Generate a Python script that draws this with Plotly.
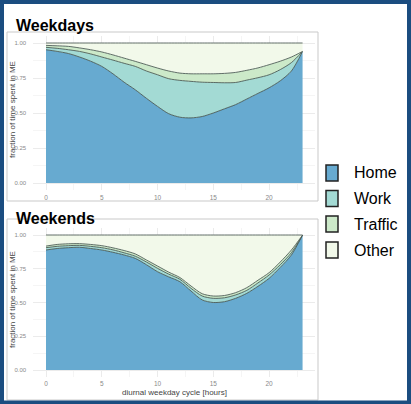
import plotly.graph_objects as go

W, H = 411, 404

hours = list(range(24))
series_names = ["Home", "Work", "Traffic", "Other"]
colors = ["#67aad0", "#a3dad4", "#cce9c9", "#f2f9ea"]

weekday_home = [0.952, 0.94, 0.925, 0.90, 0.87, 0.833, 0.78, 0.72, 0.666, 0.605, 0.547, 0.495,
                0.47, 0.465, 0.475, 0.50, 0.53, 0.56, 0.60, 0.64, 0.68, 0.73, 0.80, 0.94]
weekday_work = [0.017, 0.022, 0.027, 0.04, 0.052, 0.067, 0.098, 0.135, 0.167, 0.195, 0.226, 0.25,
                0.263, 0.261, 0.245, 0.218, 0.186, 0.158, 0.135, 0.112, 0.093, 0.08, 0.06, 0.0]
weekday_traffic = [0.014, 0.018, 0.024, 0.025, 0.03, 0.036, 0.037, 0.037, 0.036, 0.045, 0.048, 0.055,
                   0.052, 0.054, 0.06, 0.062, 0.067, 0.072, 0.07, 0.07, 0.072, 0.06, 0.04, 0.0]
weekday_other = [0.017, 0.02, 0.024, 0.035, 0.048, 0.064, 0.085, 0.108, 0.131, 0.155, 0.179, 0.20,
                 0.215, 0.22, 0.22, 0.22, 0.217, 0.21, 0.195, 0.178, 0.155, 0.13, 0.10, 0.06]

weekend_home = [0.889, 0.90, 0.906, 0.909, 0.90, 0.889, 0.872, 0.852, 0.827, 0.78, 0.728, 0.69,
                0.654, 0.585, 0.519, 0.50, 0.506, 0.531, 0.568, 0.62, 0.679, 0.76, 0.852, 1.0]
weekend_work = [0.017, 0.016, 0.015, 0.014, 0.016, 0.017, 0.018, 0.016, 0.016, 0.02, 0.025, 0.02,
                0.018, 0.02, 0.029, 0.031, 0.029, 0.025, 0.022, 0.025, 0.025, 0.02, 0.017, 0.0]
weekend_traffic = [0.012, 0.014, 0.014, 0.013, 0.014, 0.015, 0.015, 0.017, 0.017, 0.015, 0.017, 0.015,
                   0.013, 0.017, 0.017, 0.017, 0.017, 0.017, 0.02, 0.02, 0.017, 0.02, 0.02, 0.0]
weekend_other = [0.082, 0.07, 0.065, 0.064, 0.07, 0.079, 0.095, 0.115, 0.14, 0.185, 0.23, 0.275,
                 0.315, 0.378, 0.435, 0.452, 0.448, 0.427, 0.39, 0.335, 0.279, 0.20, 0.111, 0.0]

x_ticks = [0, 5, 10, 15, 20]
y_ticks = [0, 0.25, 0.5, 0.75, 1.0]
y_ticklabels = ["0.00", "0.25", "0.50", "0.75", "1.00"]

panel_titles = ["Weekdays", "Weekends"]
y_title = "fraction of time spent in ME"
x_title = "diurnal weekday cycle [hours]"

TITLEF = "Liberation Sans, Arial, sans-serif"
SANS = "Liberation Sans, Arial, sans-serif"


def px(x):
    return x / W


def py(y):
    return 1 - y / H


fig = go.Figure()

data_sets = [
    [weekday_home, weekday_work, weekday_traffic, weekday_other],
    [weekend_home, weekend_work, weekend_traffic, weekend_other],
]
for i, ds in enumerate(data_sets):
    xa = "x" if i == 0 else "x2"
    ya = "y" if i == 0 else "y2"
    for name, vals, col in zip(series_names, ds, colors):
        fig.add_trace(go.Scatter(
            x=hours, y=vals, name=name, stackgroup=f"s{i}", mode="lines",
            line=dict(color="#3b4a45", width=0.8, shape="spline", smoothing=0.8),
            fillcolor=col, xaxis=xa, yaxis=ya, showlegend=False, hoverinfo="skip",
        ))

xdom = [px(33.2), px(315.4)]
common_x = dict(range=[-1.15, 24.15], tickvals=x_ticks, ticktext=[str(v) for v in x_ticks],
                showgrid=True, gridcolor="#ebebeb", gridwidth=1, zeroline=False, showline=False,
                ticks="", tickfont=dict(size=6.5, color="#8a8a8a", family=SANS),
                ticklabelstandoff=2,
                minor=dict(showgrid=True, dtick=2.5, tick0=0, gridcolor="#f5f5f5", gridwidth=1),
                fixedrange=True)
common_y = dict(range=[-0.05, 1.05], tickvals=y_ticks, ticktext=y_ticklabels,
                showgrid=True, gridcolor="#ebebeb", gridwidth=1, zeroline=False, showline=False,
                ticks="", tickfont=dict(size=6, color="#8a8a8a", family=SANS),
                ticklabelstandoff=6,
                minor=dict(showgrid=True, dtick=0.125, tick0=0, gridcolor="#f5f5f5", gridwidth=1),
                fixedrange=True)

fig.update_layout(
    width=W, height=H, margin=dict(l=0, r=0, t=0, b=0),
    paper_bgcolor="white", plot_bgcolor="white", showlegend=False,
    xaxis=dict(domain=xdom, anchor="y", **common_x),
    yaxis=dict(domain=[py(190), py(36)], anchor="x", **common_y),
    xaxis2=dict(domain=xdom, anchor="y2", **common_x),
    yaxis2=dict(domain=[py(376.75), py(228.25)], anchor="x2", **common_y),
)

shapes = []
# panel borders
for (x0, y0, x1, y1) in [(7, 32, 318, 201), (7, 219, 318, 400)]:
    shapes.append(dict(type="rect", xref="paper", yref="paper", x0=px(x0), x1=px(x1),
                       y0=py(y1), y1=py(y0), line=dict(color="#c9c9c9", width=1),
                       fillcolor="rgba(0,0,0,0)", layer="below"))
# outer border
shapes.append(dict(type="rect", xref="paper", yref="paper", x0=px(2), x1=px(W - 2),
                   y0=py(H - 1.5), y1=py(2), line=dict(color="#1b4d80", width=4)))

annotations = []
# panel titles
for t, yc in zip(panel_titles, [25, 218]):
    annotations.append(dict(text=f"<b>{t}</b>", xref="paper", yref="paper", x=px(14), y=py(yc),
                            xanchor="left", yanchor="middle", showarrow=False,
                            font=dict(size=16, color="black", family=TITLEF)))
# y-axis titles
for yc in [110, 300]:
    annotations.append(dict(text=y_title, xref="paper", yref="paper", x=px(12), y=py(yc),
                            xanchor="center", yanchor="middle", textangle=-90, showarrow=False,
                            font=dict(size=8, color="#444", family=SANS)))
# x-axis title
annotations.append(dict(text=x_title, xref="paper", yref="paper", x=px(174), y=py(392),
                        xanchor="center", yanchor="middle", showarrow=False,
                        font=dict(size=8, color="#444", family=SANS)))

# legend
leg_y = [173, 198.5, 224, 250]
for name, col, yc in zip(series_names, colors, leg_y):
    shapes.append(dict(type="rect", xref="paper", yref="paper", x0=px(326), x1=px(338),
                       y0=py(yc + 8), y1=py(yc - 8), fillcolor=col,
                       line=dict(color="#222", width=1.5)))
    annotations.append(dict(text=name, xref="paper", yref="paper", x=px(352), y=py(yc),
                            xanchor="left", yanchor="middle", showarrow=False,
                            font=dict(size=16, color="black", family=SANS)))

fig.update_layout(shapes=shapes, annotations=annotations)
fig.write_html("out.html", config={"displayModeBar": False, "staticPlot": True},
               post_script="document.body.style.margin='0';document.body.style.overflow='hidden';")
